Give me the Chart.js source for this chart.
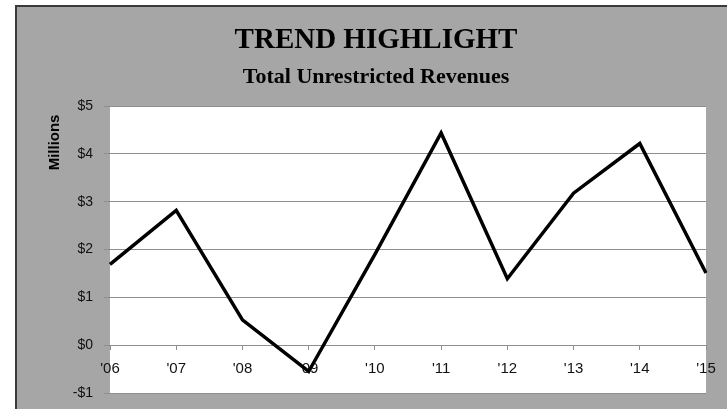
<!DOCTYPE html>
<html lang="en">
<head>
  <meta charset="UTF-8">
  <title>Trend Highlight - Total Unrestricted Revenues</title>
  <script src="https://cdn.jsdelivr.net/npm/chart.js"></script>
  <style>
    html, body { margin: 0; padding: 0; background: #fff; }
    .chart-container { position: relative; width: 727px; height: 409px; }
  </style>
</head>
<body>

<div class="chart-container"><canvas id="revChart"></canvas></div>

<script>
  // Fiscal years and revenues (millions of dollars)
  const years = ["'06", "'07", "'08", "'09", "'10", "'11", "'12", "'13", "'14", "'15"];
  const revenues = [1.69, 2.82, 0.53, -0.55, 1.9, 4.44, 1.39, 3.18, 4.22, 1.51];

  const yMin = -1;
  const yMax = 5;
  const yStep = 1;

  const titleText = 'TREND HIGHLIGHT';
  const subtitleText = 'Total Unrestricted Revenues';
  const yAxisTitle = 'Millions  ';

  // gray panel, dark frame and white plot area
  const panelBackground = {
    id: 'panelBackground',
    beforeDraw(chart) {
      const ctx = chart.ctx;
      const a = chart.chartArea;
      ctx.save();
      ctx.fillStyle = '#ffffff';
      ctx.fillRect(0, 0, chart.width, chart.height);
      ctx.fillStyle = '#a6a6a6';
      ctx.fillRect(15, 5, chart.width - 15, chart.height - 5);
      ctx.strokeStyle = '#3a3a3a';
      ctx.lineWidth = 2;
      ctx.beginPath();
      ctx.moveTo(16, chart.height);
      ctx.lineTo(16, 6);
      ctx.lineTo(chart.width, 6);
      ctx.stroke();
      ctx.fillStyle = '#ffffff';
      ctx.fillRect(a.left, a.top, a.right - a.left, a.bottom - a.top);
      ctx.restore();
    }
  };

  new Chart(document.getElementById('revChart'), {
    type: 'line',
    data: {
      labels: years,
      datasets: [{
        label: 'Total Unrestricted Revenues',
        data: revenues,
        borderColor: '#000000',
        borderWidth: 3.5,
        borderJoinStyle: 'miter',
        pointRadius: 0,
        tension: 0,
        fill: false
      }]
    },
    options: {
      responsive: true,
      maintainAspectRatio: false,
      animation: false,
      layout: { padding: { left: 46, right: 21, top: 6, bottom: 16 } },
      scales: {
        x: {
          position: { y: 0 },
          offset: false,
          border: { display: false },
          grid: { display: true, drawOnChartArea: false, drawTicks: true, tickLength: 5, color: '#8f8f8f' },
          ticks: {
            autoSkip: false,
            maxRotation: 0,
            padding: 10,
            color: '#111',
            font: { family: 'Liberation Sans', size: 15 }
          }
        },
        y: {
          min: yMin,
          max: yMax,
          border: { display: false },
          grid: { color: '#8f8f8f', lineWidth: 1, tickLength: 6 },
          ticks: {
            stepSize: yStep,
            padding: 11,
            color: '#111',
            font: { family: 'Liberation Sans', size: 14 },
            callback: v => (v < 0 ? '-$' + Math.abs(v) : '$' + v)
          },
          title: {
            display: true,
            text: yAxisTitle,
            align: 'end',
            color: '#000',
            padding: { top: 0, bottom: 0 },
            font: { family: 'Liberation Sans', size: 15, weight: 'bold' }
          },
          afterFit(scale) {
            scale.width = 64;
            scale.paddingTop = 0;
            scale.paddingBottom = 0;
          }
        }
      },
      plugins: {
        legend: { display: false },
        tooltip: { enabled: false },
        title: {
          display: true,
          text: titleText,
          color: '#000',
          padding: { top: 17, bottom: 1 },
          font: { family: 'Liberation Serif', size: 29, weight: 'bold' }
        },
        subtitle: {
          display: true,
          text: subtitleText,
          color: '#000',
          padding: { top: 5, bottom: 16 },
          font: { family: 'Liberation Serif', size: 22, weight: 'bold' }
        }
      }
    },
    plugins: [panelBackground]
  });
</script>

</body>
</html>
